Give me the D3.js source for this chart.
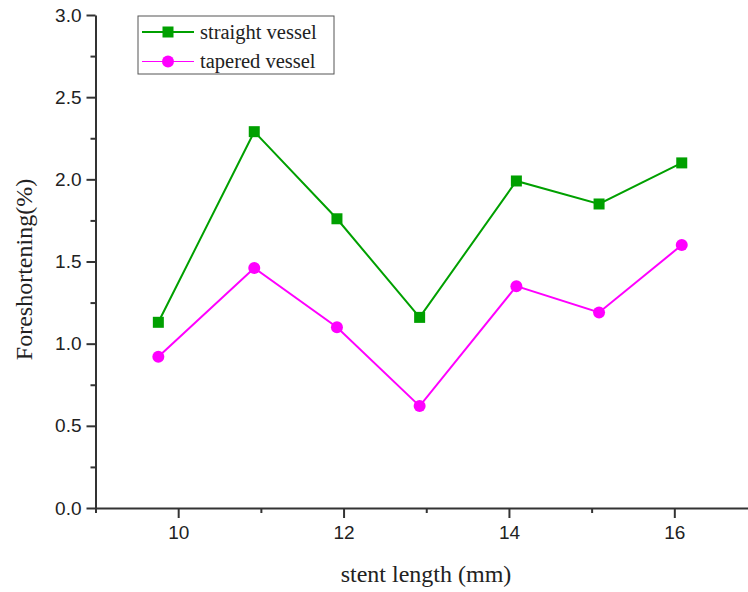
<!DOCTYPE html>
<html>
<head>
<meta charset="utf-8">
<script src="https://cdn.jsdelivr.net/npm/d3@7"></script>
<style>
  html, body { margin: 0; padding: 0; background: #fff; }
  svg { display: block; }
  .tick text { font-family: "Liberation Sans", Arial, sans-serif; font-size: 19px; fill: #222; }
  .axis path, .axis line { stroke: #333; }
</style>
</head>
<body>
<div id="chart"></div>
<script>
const stentLength = [9.76, 10.92, 11.92, 12.92, 14.09, 15.09, 16.09];
const straightVessel = [1.13, 2.29, 1.76, 1.16, 1.99, 1.85, 2.10];
const taperedVessel = [0.92, 1.46, 1.10, 0.62, 1.35, 1.19, 1.60];
const xMajorTicks = [10, 12, 14, 16];
const xMinorTicks = [9, 11, 13, 15, 17];
const yMajorTicks = [0, 0.5, 1.0, 1.5, 2.0, 2.5, 3.0];
const yMinorTicks = [0.25, 0.75, 1.25, 1.75, 2.25, 2.75];

const series = [
  { label: "straight vessel", values: straightVessel, color: "#00a000", marker: "square" },
  { label: "tapered vessel", values: taperedVessel, color: "#ff00ff", marker: "circle" },
];

const width = 748, height = 592;
const svg = d3.select("#chart").append("svg").attr("width", width).attr("height", height);

const x = d3.scaleLinear().domain([9, 17]).range([95.5, 757]);
const y = d3.scaleLinear().domain([0, 3]).range([508, 15]);

// axes: major ticks with labels, minor ticks without
const xAxis = svg.append("g").attr("class", "axis").attr("transform", `translate(0,${y(0)})`);
xAxis.call(d3.axisBottom(x).tickValues(xMajorTicks).tickSize(10).tickSizeOuter(0).tickPadding(8).tickFormat(d3.format("d")));
xAxis.append("g").call(d3.axisBottom(x).tickValues(xMinorTicks).tickSize(5).tickFormat(""))
  .select(".domain").remove();
xAxis.selectAll("path, line").attr("stroke-width", 2);

const yAxis = svg.append("g").attr("class", "axis").attr("transform", `translate(${x(9)},0)`);
yAxis.call(d3.axisLeft(y).tickValues(yMajorTicks).tickSize(9).tickSizeOuter(0).tickPadding(5).tickFormat(d3.format(".1f")));
yAxis.append("g").call(d3.axisLeft(y).tickValues(yMinorTicks).tickSize(5).tickFormat(""))
  .select(".domain").remove();
yAxis.selectAll("path, line").attr("stroke-width", 2);

svg.append("text")
  .attr("x", 426).attr("y", 582)
  .attr("text-anchor", "middle")
  .attr("font-family", "'Liberation Serif', 'Times New Roman', serif")
  .attr("font-size", 24).attr("fill", "#222")
  .text("stent length (mm)");

svg.append("text")
  .attr("transform", `translate(32,${y(1.5) + 8}) rotate(-90)`)
  .attr("text-anchor", "middle")
  .attr("font-family", "'Liberation Serif', 'Times New Roman', serif")
  .attr("font-size", 24).attr("fill", "#222")
  .text("Foreshortening(%)");

const line = d3.line().x((d, i) => x(stentLength[i])).y(d => y(d));

series.forEach(s => {
  svg.append("path").datum(s.values).attr("d", line)
    .attr("fill", "none").attr("stroke", s.color).attr("stroke-width", 2);
  const pts = svg.append("g").selectAll("g").data(s.values).enter().append("g")
    .attr("transform", (d, i) => `translate(${x(stentLength[i])},${y(d)})`);
  if (s.marker === "square") {
    pts.append("rect").attr("x", -5.5).attr("y", -5.5).attr("width", 11).attr("height", 11).attr("fill", s.color);
  } else {
    pts.append("circle").attr("r", 6).attr("fill", s.color);
  }
});

// legend
const legend = svg.append("g").attr("transform", "translate(138,16)");
legend.append("rect").attr("width", 196).attr("height", 58)
  .attr("fill", "#fff").attr("stroke", "#555").attr("stroke-width", 1);
series.forEach((s, i) => {
  const g = legend.append("g").attr("transform", `translate(0,${16 + i * 29.5})`);
  g.append("line").attr("x1", 4).attr("x2", 56).attr("stroke", s.color).attr("stroke-width", i === 0 ? 2 : 1);
  if (s.marker === "square") {
    g.append("rect").attr("x", 24.5).attr("y", -5.5).attr("width", 11).attr("height", 11).attr("fill", s.color);
  } else {
    g.append("circle").attr("cx", 30).attr("r", 6).attr("fill", s.color);
  }
  g.append("text").attr("x", 62).attr("y", 6.5)
    .attr("font-family", "'Liberation Serif', 'Times New Roman', serif")
    .attr("font-size", 20.5).attr("fill", "#222")
    .text(s.label);
});
</script>
</body>
</html>
